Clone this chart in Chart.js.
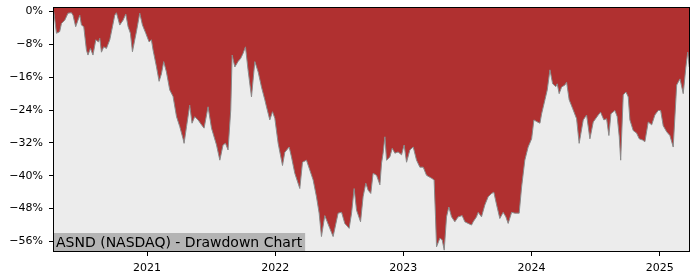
<!DOCTYPE html>
<html>
<head>
<meta charset="utf-8">
<script src="https://cdn.jsdelivr.net/npm/chart.js@4/dist/chart.umd.min.js"></script>
<style>
  html,body{margin:0;padding:0;background:#fff;}
  #caja{width:700px;height:280px;position:relative;}
</style>
</head>
<body>
<div id="caja"><canvas id="myChart"></canvas></div>
<script>
// fechas en años decimales
const fechas=[2020.272,2020.293,2020.318,2020.332,2020.358,2020.383,2020.410,2020.422,2020.443,2020.461,
2020.475,2020.488,2020.506,2020.527,2020.539,2020.558,2020.578,2020.600,2020.621,2020.631,
2020.644,2020.662,2020.683,2020.709,2020.730,2020.748,2020.761,2020.787,2020.813,2020.834,
2020.852,2020.870,2020.886,2020.904,2020.917,2020.943,2020.964,2020.990,2021.016,2021.034,
2021.047,2021.073,2021.094,2021.112,2021.130,2021.151,2021.177,2021.203,2021.230,2021.255,
2021.281,2021.289,2021.308,2021.333,2021.351,2021.372,2021.398,2021.425,2021.445,2021.476,
2021.503,2021.542,2021.568,2021.593,2021.612,2021.632,2021.653,2021.664,2021.685,2021.710,
2021.731,2021.749,2021.768,2021.788,2021.815,2021.841,2021.867,2021.893,2021.919,2021.932,
2021.958,2021.979,2021.997,2022.023,2022.057,2022.075,2022.109,2022.127,2022.153,2022.192,
2022.213,2022.244,2022.270,2022.296,2022.322,2022.343,2022.361,2022.387,2022.426,2022.452,
2022.491,2022.518,2022.543,2022.577,2022.596,2022.616,2022.635,2022.666,2022.686,2022.707,
2022.725,2022.746,2022.764,2022.791,2022.817,2022.830,2022.842,2022.856,2022.869,2022.895,
2022.913,2022.934,2022.959,2022.986,2023.006,2023.025,2023.051,2023.077,2023.103,2023.129,
2023.155,2023.181,2023.220,2023.240,2023.251,2023.259,2023.285,2023.303,2023.319,2023.337,
2023.355,2023.376,2023.402,2023.428,2023.459,2023.480,2023.506,2023.532,2023.545,2023.571,
2023.584,2023.610,2023.636,2023.662,2023.689,2023.706,2023.728,2023.753,2023.779,2023.800,
2023.818,2023.845,2023.870,2023.904,2023.923,2023.948,2023.974,2024.001,2024.019,2024.040,
2024.066,2024.079,2024.105,2024.123,2024.144,2024.165,2024.190,2024.201,2024.216,2024.235,
2024.261,2024.274,2024.294,2024.321,2024.352,2024.372,2024.404,2024.430,2024.456,2024.482,
2024.521,2024.539,2024.565,2024.586,2024.604,2024.620,2024.651,2024.669,2024.685,2024.696,
2024.716,2024.737,2024.755,2024.768,2024.794,2024.820,2024.841,2024.867,2024.885,2024.911,
2024.938,2024.963,2024.989,2025.008,2025.028,2025.055,2025.080,2025.106,2025.133,2025.159,
2025.184,2025.205,2025.219,2025.231]

// caida desde el maximo, en %
const caida=[0,-5.3,-4.9,-2.9,-2.1,-0.4,-0.3,-0.9,-3.7,-2.1,
-0.9,-3.3,-3.7,-9.4,-10.6,-9.0,-10.6,-6.9,-7.4,-6.5,
-9.9,-8.6,-9.0,-6.9,-3.7,-0.9,-0.3,-3.3,-2.1,-0.6,
-3.7,-5.3,-9.8,-6.9,-4.9,-0.4,-3.3,-5.3,-7.4,-6.9,
-9.4,-13.4,-17.0,-15.2,-12.2,-14.7,-19.1,-20.7,-25.6,-28.0,
-31.0,-32.1,-28.0,-22.8,-27.2,-25.6,-26.4,-27.6,-28.4,-23.2,
-28.4,-32.5,-36.2,-32.5,-32.1,-33.7,-24.0,-10.6,-13.5,-12.2,
-11.4,-10.2,-8.6,-14.2,-20.8,-12.2,-14.7,-18.4,-21.5,-23.2,
-26.4,-24.4,-26.0,-32.1,-37.5,-34.3,-33.0,-35.4,-39.4,-43.1,
-36.7,-36.2,-38.6,-41.0,-45.1,-49.1,-54.8,-49.7,-52.8,-54.8,
-49.1,-48.9,-51.6,-52.8,-49.1,-43.1,-48.4,-51.2,-45.1,-41.8,
-43.5,-44.3,-39.4,-39.9,-42.2,-36.9,-34.5,-30.5,-36.2,-35.4,
-33.3,-34.5,-34.2,-34.9,-32.5,-36.7,-33.7,-33.0,-36.2,-37.9,
-37.9,-39.9,-40.6,-41.0,-50.0,-57.3,-55.2,-55.6,-58.1,-50.0,
-47.6,-50.0,-51.2,-50.0,-49.7,-51.2,-51.6,-52.0,-51.2,-50.0,
-48.9,-50.0,-47.1,-45.1,-44.3,-44.0,-47.1,-50.4,-48.9,-50.0,
-51.6,-48.9,-49.1,-49.1,-42.7,-36.2,-33.0,-31.0,-26.4,-26.8,
-27.2,-24.9,-21.5,-19.1,-14.2,-17.6,-18.3,-17.6,-20.0,-18.4,
-17.9,-17.2,-21.5,-23.6,-26.1,-32.1,-26.4,-25.2,-31.0,-26.9,
-25.2,-24.5,-26.4,-26.1,-30.2,-24.9,-24.1,-25.6,-30.5,-36.2,
-20.3,-19.6,-20.8,-26.4,-29.0,-29.6,-31.0,-31.3,-31.7,-26.9,
-27.6,-25.2,-24.1,-24.1,-27.8,-29.3,-30.2,-33.0,-17.9,-16.4,
-20.0,-13.5,-9.9,-13.5]

const ticksY=[0,-8,-16,-24,-32,-40,-48,-56]
const ticksX=[2021,2022,2023,2024,2025]
const titulo="ASND (NASDAQ) - Drawdown Chart"

// fondo gris, marco negro y la etiqueta de abajo
const marco={
    id:'marco',
    beforeDraw(chart){
        const a=chart.chartArea
        const c=chart.ctx
        c.save()
        c.fillStyle='#ececec'
        c.fillRect(a.left,a.top,a.right-a.left,a.bottom-a.top)
        c.restore()
    },
    afterDraw(chart){
        const a=chart.chartArea
        const c=chart.ctx
        c.save()
        c.font='14px "DejaVu Sans"'
        const w=c.measureText(titulo).width
        c.fillStyle='#b4b4b4'
        c.fillRect(a.left,a.bottom-19,w+6,19)
        c.fillStyle='#000'
        c.textBaseline='middle'
        c.fillText(titulo,a.left+3,a.bottom-9)
        c.strokeStyle='#000'
        c.lineWidth=1
        c.strokeRect(a.left+0.5,a.top+0.5,a.right-a.left-1,a.bottom-a.top-1)
        c.restore()
    }
}

function grafico(){
    const ctx=document.getElementById('myChart')
    const puntos=fechas.map((f,i)=>({x:f,y:caida[i]}))

    new Chart(ctx,{
        type:'line',
        data:{
            datasets:[{
                data:puntos,
                borderColor:'#8a8a8a',
                borderWidth:1,
                backgroundColor:'#b03030',
                fill:'end',
                pointRadius:0,
                tension:0
            }]
        },
        options:{
            responsive:true,
            maintainAspectRatio:false,
            animation:false,
            layout:{padding:{top:7,right:10,left:0,bottom:0}},
            plugins:{legend:{display:false},tooltip:{enabled:false}},
            scales:{
                x:{
                    type:'linear',
                    min:2020.266,
                    max:2025.237,
                    afterBuildTicks:(s)=>{s.ticks=ticksX.map(v=>({value:v}))},
                    afterFit:(s)=>{s.height=28;s.paddingLeft=0;s.paddingRight=0},
                    grid:{drawOnChartArea:false,tickLength:4,tickColor:'#000',color:'#000'},
                    border:{display:false},
                    ticks:{
                        font:{family:'DejaVu Sans',size:11},
                        color:'#000',
                        padding:6,
                        maxRotation:0,
                        callback:(v)=>String(v)
                    }
                },
                y:{
                    min:-58.56,
                    max:1.1,
                    afterBuildTicks:(s)=>{s.ticks=ticksY.map(v=>({value:v}))},
                    afterFit:(s)=>{s.width=53;s.paddingTop=0;s.paddingBottom=0},
                    grid:{drawOnChartArea:false,tickLength:4,tickColor:'#000',color:'#000'},
                    border:{display:false},
                    ticks:{
                        font:{family:'DejaVu Sans',size:11},
                        color:'#000',
                        padding:6,
                        callback:(v)=>v==0?'0%':'\u2212'+Math.abs(v)+'%'
                    }
                }
            }
        },
        plugins:[marco]
    })
}

grafico()
</script>
</body>
</html>
